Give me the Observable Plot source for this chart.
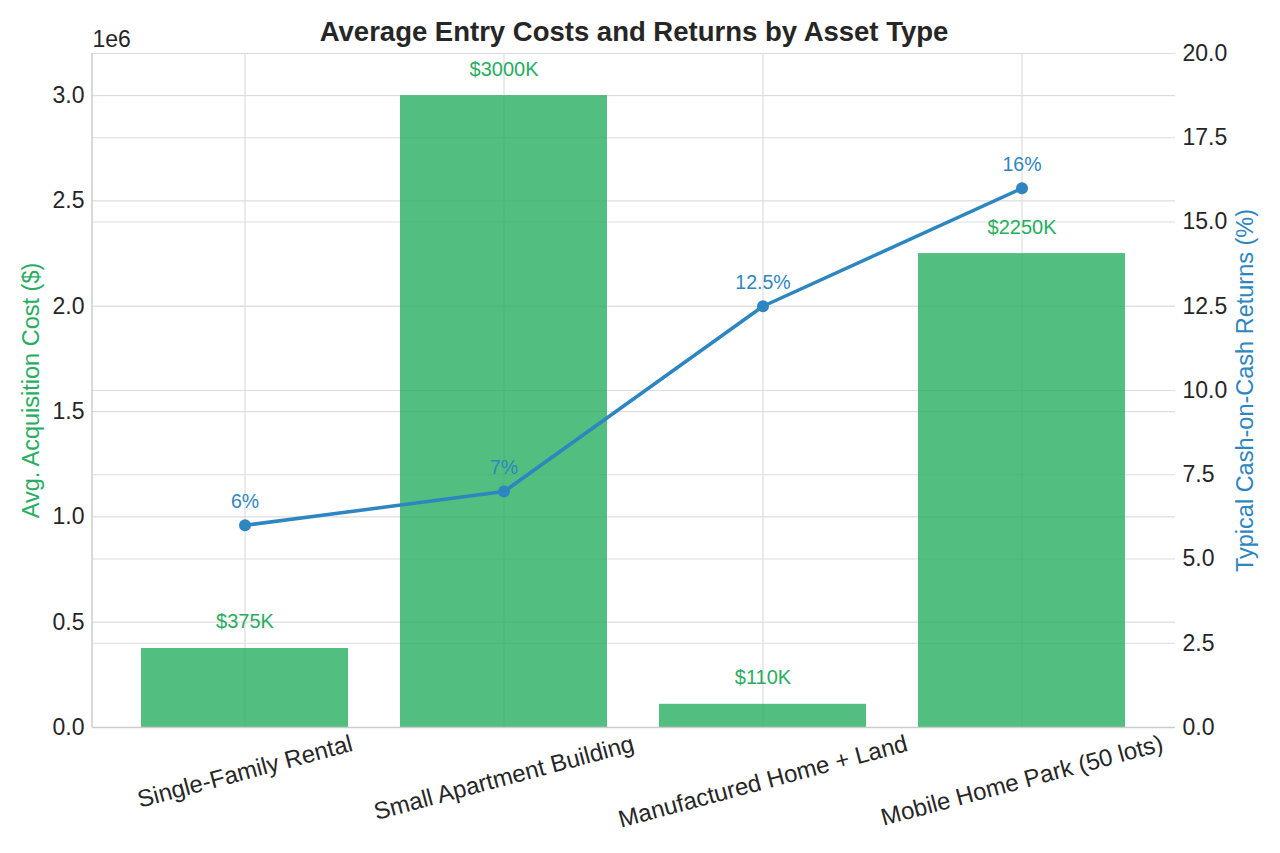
<!DOCTYPE html>
<html>
<head>
<meta charset="utf-8">
<script src="https://cdn.jsdelivr.net/npm/d3@7"></script>
<script src="https://cdn.jsdelivr.net/npm/@observablehq/plot@0.6"></script>
<style>
  html, body { margin: 0; padding: 0; background: #fff; }
  #chart { width: 1280px; height: 853px; }
</style>
</head>
<body>
<div id="chart"></div>
<script>
const categories = ["Single-Family Rental", "Small Apartment Building", "Manufactured Home + Land", "Mobile Home Park (50 lots)"];
const acquisitionCost = [375000, 3000000, 110000, 2250000];
const cashOnCash = [6, 7, 12.5, 16];
const leftTicks = [0, 500000, 1000000, 1500000, 2000000, 2500000, 3000000];
const rightTicks = [0, 2.5, 5, 7.5, 10, 12.5, 15, 17.5, 20];

const W = 1280, H = 853;
const mL = 92, mR = 105, mT = 53, mB = 126;
const yMax = 3200000, rMax = 20;
const k = yMax / rMax;

const green = "#27ae60";
const blue = "#2e86c1";
const ink = "#262626";
const font = "'Liberation Sans', Arial, sans-serif";
const xFs = 24;

const rows = categories.map((c, i) => ({cat: c, cost: acquisitionCost[i], ret: cashOnCash[i], retY: cashOnCash[i] * k}));

// measure label widths for rotated tick label placement
const ctx = document.createElement("canvas").getContext("2d");
ctx.font = xFs + "px " + font;
const s15 = Math.sin(15 * Math.PI / 180), c15 = Math.cos(15 * Math.PI / 180);

const xLabelMarks = categories.map(c => {
  const w = ctx.measureText(c).width;
  const half = (w * s15 + xFs * c15) / 2;
  return Plot.text([c], {
    x: d => d, frameAnchor: "bottom", rotate: -15, textAnchor: "middle", lineAnchor: "middle",
    dy: 4 + half, fontSize: xFs, fill: ink, text: d => d
  });
});

const leftSpine = (index, scales, values, dims) => {
  const g = d3.create("svg:line")
    .attr("x1", dims.marginLeft).attr("x2", dims.marginLeft)
    .attr("y1", dims.marginTop).attr("y2", dims.height - dims.marginBottom)
    .attr("stroke", "#cccccc").attr("stroke-width", 1.5);
  return g.node();
};

const chart = Plot.plot({
  width: W, height: H,
  marginLeft: mL, marginRight: mR, marginTop: mT, marginBottom: mB,
  style: {fontFamily: font, fontSize: "22px", background: "#fff", color: ink, overflow: "visible"},
  x: {domain: categories, paddingInner: 0.2, paddingOuter: 0.188, align: 0.5, axis: null},
  y: {domain: [0, yMax], axis: null},
  marks: [
    Plot.gridY(leftTicks, {stroke: "#dddddd", strokeOpacity: 1, strokeWidth: 1.2}),
    Plot.gridY(rightTicks.map(v => v * k), {stroke: "#dddddd", strokeOpacity: 1, strokeWidth: 1.2}),
    Plot.gridX(categories, {stroke: "#dddddd", strokeOpacity: 1, strokeWidth: 1.2}),
    Plot.barY(rows, {x: "cat", y: "cost", fill: green, fillOpacity: 0.8}),
    Plot.ruleY([0], {stroke: "#cccccc", strokeWidth: 1.5}),
    leftSpine,
    Plot.text(rows, {x: "cat", y: "cost", text: d => "$" + (d.cost / 1000) + "K", dy: -26.5, lineAnchor: "middle", fill: green, fontSize: 20}),
    Plot.line(rows, {x: "cat", y: "retY", stroke: blue, strokeWidth: 3.5}),
    Plot.dot(rows, {x: "cat", y: "retY", r: 6, fill: blue}),
    Plot.text(rows, {x: "cat", y: "retY", text: d => d.ret + "%", dy: -24, lineAnchor: "middle", fill: blue, fontSize: 19.5}),
    Plot.axisY(leftTicks, {anchor: "left", tickSize: 0, tickPadding: 8, fontSize: 23, fill: ink, tickFormat: d => (d / 1e6).toFixed(1), label: null}),
    Plot.axisY(rightTicks.map(v => v * k), {anchor: "right", tickSize: 0, tickPadding: 7, fontSize: 23, fill: ink, tickFormat: d => (d / k).toFixed(1), label: null}),
    ...xLabelMarks,
    Plot.text(["1e6"], {frameAnchor: "top-left", dy: -7, lineAnchor: "bottom", textAnchor: "start", fontSize: 23, fill: ink}),
    Plot.text(["Average Entry Costs and Returns by Asset Type"], {frameAnchor: "top", dy: -21, lineAnchor: "middle", fontSize: 27.5, fontWeight: "bold", fill: ink}),
    Plot.text(["Avg. Acquisition Cost ($)"], {frameAnchor: "left", dx: -61, rotate: -90, textAnchor: "middle", lineAnchor: "middle", fontSize: 23.5, fill: green}),
    Plot.text(["Typical Cash-on-Cash Returns (%)"], {frameAnchor: "right", dx: 70, rotate: -90, textAnchor: "middle", lineAnchor: "middle", fontSize: 23.5, fill: blue})
  ]
});
document.getElementById("chart").appendChild(chart);
</script>
</body>
</html>
